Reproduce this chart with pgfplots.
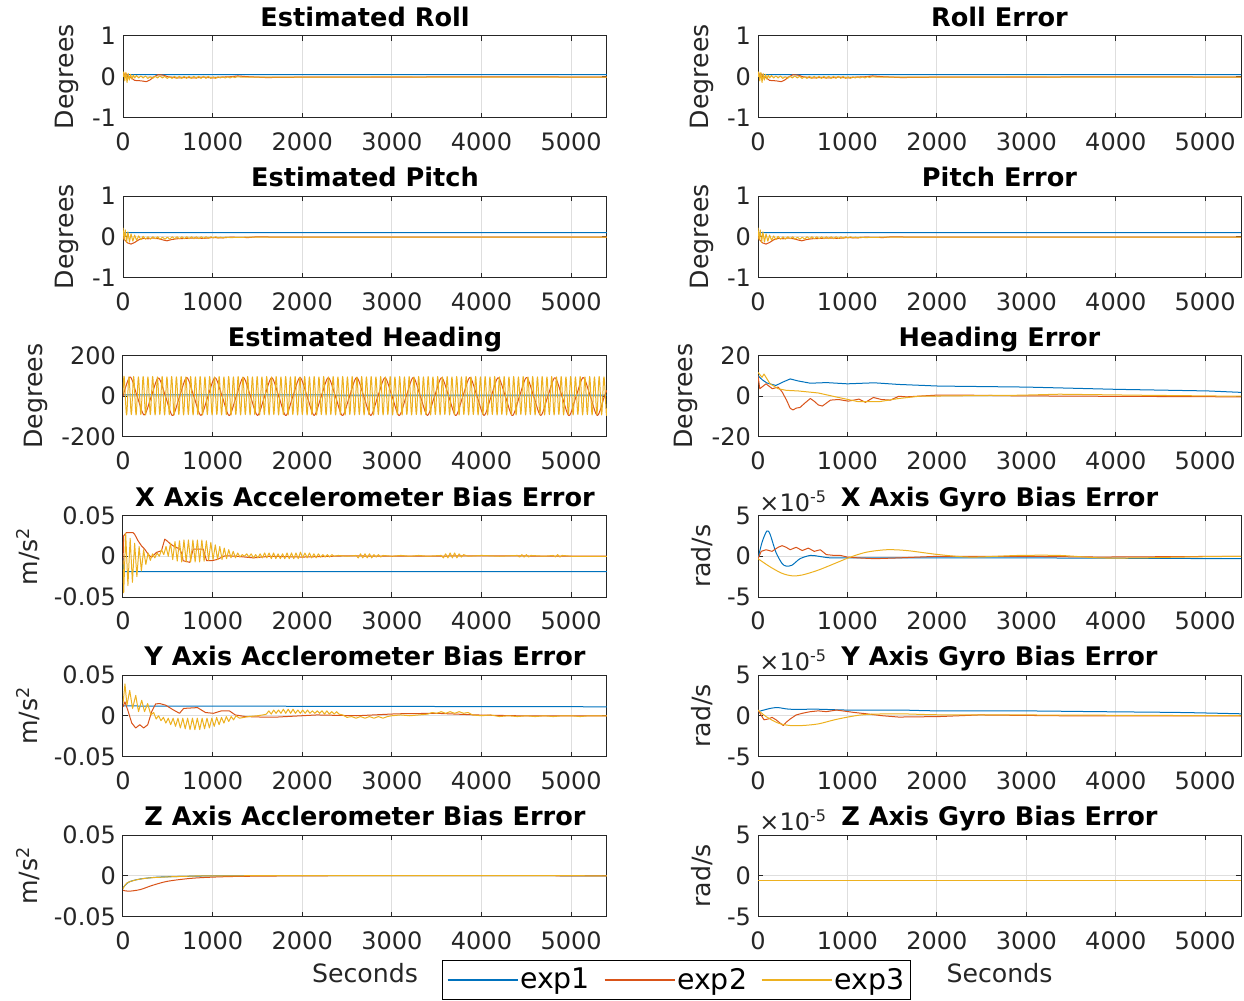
\documentclass[border=0pt]{standalone}
\usepackage{fontspec}
\setmainfont{DejaVu Sans}
\usepackage{pgfplots}
\pgfplotsset{compat=1.18}
\usepackage{pgfplotstable}

\definecolor{c1}{rgb}{0,0.447,0.741}
\definecolor{c2}{rgb}{0.85,0.325,0.098}
\definecolor{c3}{rgb}{0.929,0.694,0.125}
\definecolor{axc}{gray}{0.15}
\definecolor{gridc}{gray}{0.87}

\newcommand\ticksz{\fontsize{12}{13}\selectfont}
\newcommand\labsz{\fontsize{12.6}{14}\selectfont}
\newcommand\titsz{\fontsize{12.8}{14}\selectfont\bfseries}
\newcommand\legsz{\fontsize{14.2}{15}\selectfont}

% ---------------- data ----------------
\pgfplotstableread[row sep=\\]{
t v\\ 0 0.04\\ 60 0.05\\ 5400 0.05\\
}\rollA
\pgfplotstableread[row sep=\\]{
t v\\ 0 0.05\\ 30 0.08\\ 60 0.01\\ 100 -0.04\\ 130 -0.09\\ 200 -0.1\\ 260 -0.12\\ 300 -0.08\\ 340 -0.01\\ 390 0.05\\ 450 0.04\\ 500 0.0\\ 600 -0.03\\ 700 -0.02\\ 800 -0.03\\ 900 -0.01\\ 1000 -0.03\\ 1100 -0.01\\ 1200 0.0\\ 1280 0.02\\ 1400 0.0\\ 1600 -0.02\\ 2000 -0.01\\ 3000 -0.01\\ 4000 0.0\\ 5400 -0.01\\
}\rollB
\pgfplotstableread[row sep=\\]{
t v\\ 0 0.0\\ 8 0.12\\ 20 -0.1\\ 32 0.11\\ 45 -0.14\\ 58 0.08\\ 70 -0.08\\ 85 0.06\\ 100 -0.06\\ 115 0.04\\ 130 -0.03\\ 150 0.03\\ 175 -0.03\\ 200 0.02\\ 225 -0.03\\ 250 0.02\\ 277 -0.04\\ 304 0.0\\ 331 -0.04\\ 358 0.01\\ 385 -0.03\\ 412 0.02\\ 439 -0.03\\ 466 0.01\\ 493 -0.04\\ 520 0.0\\ 547 -0.04\\ 574 0.01\\ 601 -0.04\\ 628 0.01\\ 655 -0.04\\ 682 0.01\\ 709 -0.04\\ 736 0.01\\ 763 -0.04\\ 790 0.01\\ 817 -0.04\\ 844 0.01\\ 871 -0.04\\ 898 0.01\\ 925 -0.04\\ 952 0.01\\ 979 -0.04\\ 1006 0.0\\ 1033 -0.04\\ 1060 0.0\\ 1087 -0.03\\ 1114 0.0\\ 1141 -0.03\\ 1168 0.0\\ 1195 -0.03\\ 1222 0.0\\ 1249 -0.02\\ 1276 0.0\\ 1320 -0.01\\ 1500 -0.01\\ 2000 -0.01\\ 3000 -0.005\\ 4000 -0.01\\ 5400 -0.01\\
}\rollC
\pgfplotstableread[row sep=\\]{
t v\\ 0 0.09\\ 40 0.1\\ 5400 0.1\\
}\pitA
\pgfplotstableread[row sep=\\]{
t v\\ 0 0.0\\ 20 -0.08\\ 50 -0.15\\ 90 -0.18\\ 130 -0.14\\ 180 -0.07\\ 230 -0.04\\ 280 -0.05\\ 330 -0.03\\ 400 -0.05\\ 450 -0.08\\ 490 -0.1\\ 540 -0.07\\ 600 -0.05\\ 700 -0.04\\ 800 -0.03\\ 900 -0.04\\ 1000 -0.02\\ 1100 -0.03\\ 1200 -0.01\\ 1400 -0.02\\ 1500 0.0\\ 1700 -0.01\\ 2500 -0.01\\ 5400 -0.01\\
}\pitB
\pgfplotstableread[row sep=\\]{
t v\\ 0 0.22\\ 12 -0.08\\ 25 0.17\\ 40 -0.14\\ 55 0.12\\ 72 -0.13\\ 90 0.07\\ 110 -0.11\\ 130 0.04\\ 152 -0.09\\ 175 0.02\\ 200 -0.07\\ 225 0.01\\ 252 -0.06\\ 279 0.0\\ 306 -0.06\\ 333 0.0\\ 360 -0.05\\ 387 0.0\\ 414 -0.06\\ 441 -0.01\\ 468 -0.06\\ 495 -0.01\\ 522 -0.06\\ 549 0.0\\ 576 -0.05\\ 603 0.0\\ 630 -0.05\\ 657 0.0\\ 684 -0.05\\ 711 0.0\\ 738 -0.05\\ 765 0.0\\ 792 -0.05\\ 819 0.0\\ 846 -0.05\\ 873 0.0\\ 900 -0.04\\ 927 0.0\\ 954 -0.04\\ 981 0.0\\ 1008 -0.03\\ 1035 0.0\\ 1062 -0.03\\ 1089 -0.01\\ 1116 -0.03\\ 1143 -0.01\\ 1200 -0.02\\ 1400 -0.01\\ 5400 -0.01\\
}\pitC

\pgfplotsset{
 mat/.style={
  scale only axis, height=40.75pt,
  xmin=0, xmax=5400,
  xtick={0,1000,2000,3000,4000,5000},
  xticklabels={0,1000,2000,3000,4000,5000},
  scaled ticks=false,
  clip mode=individual,
  grid=major, major grid style={line width=0.5pt, color=gridc},
  axis line style={line width=0.5pt, color=axc},
  tick style={color=axc, line width=0.5pt},
  tick align=inside, major tick length=2.5pt,
  ticklabel style={font=\ticksz, color=axc},
  xticklabel style={yshift=-4pt},
  title style={font=\titsz, color=black, at={(0.5,1)}, anchor=base, yshift=-1.3pt},
  ylabel style={font=\labsz, color=axc},
  xlabel style={font=\labsz, color=axc},
  every axis plot/.append style={line width=0.5pt, line join=round},
  /pgf/number format/assume math mode=true,
 },
 L/.style={mat, at={(61.5pt,#1)}, anchor=north west, width=242pt},
 R/.style={mat, at={(379pt,#1)}, anchor=north west, width=241.5pt},
 deg/.style={ymin=-1, ymax=1, ytick={-1,0,1}, yticklabels={-1,0,1}, ylabel={Degrees}},
 acc/.style={ymin=-0.05, ymax=0.05, ytick={-0.05,0,0.05}, yticklabels={-0.05,0,0.05}, ylabel={m/s\textsuperscript{2}}},
 gyr/.style={ymin=-5e-5, ymax=5e-5, ytick={-5e-5,0,5e-5}, yticklabels={-5,0,5}, ylabel={rad/s}},
}
\newcommand\expolabel{\node[anchor=base west, font=\fontsize{12}{13}\selectfont, text=axc, inner sep=0pt, xshift=0.5pt, yshift=2.2pt] at (rel axis cs:0,1) {×10\textsuperscript{-5}};}

\begin{document}
\begin{tikzpicture}
\useasboundingbox (0,0) rectangle (622pt,-500.5pt);

% ===== Row 1 =====
\begin{axis}[L=-18pt, deg, title={Estimated Roll}]
\addplot[c1] table {\rollA};
\addplot[c2] table {\rollB};
\addplot[c3] table {\rollC};
\end{axis}
\begin{axis}[R=-18pt, deg, title={Roll Error}]
\addplot[c1] table {\rollA};
\addplot[c2] table {\rollB};
\addplot[c3] table {\rollC};
\end{axis}

% ===== Row 2 =====
\begin{axis}[L=-98pt, deg, title={Estimated Pitch}]
\addplot[c1] table {\pitA};
\addplot[c2] table {\pitB};
\addplot[c3] table {\pitC};
\end{axis}
\begin{axis}[R=-98pt, deg, title={Pitch Error}]
\addplot[c1] table {\pitA};
\addplot[c2] table {\pitB};
\addplot[c3] table {\pitC};
\end{axis}

% ===== Row 3 =====
\begin{axis}[L=-177.75pt, ymin=-200, ymax=200, ytick={-200,0,200}, yticklabels={-200,0,200}, ylabel={Degrees}, title={Estimated Heading}]
\addplot[c1] coordinates {(0,7) (5400,5)};
\addplot[c2, smooth] coordinates {(0,0) (79,95) (158,0) (237,-92) (316,0) (395,90) (474,0) (553,-95) (632,0) (711,92) (790,0) (869,-94) (948,0) (1027,91) (1106,0) (1185,-95) (1264,0) (1343,92) (1422,0) (1501,-94) (1580,0) (1659,91) (1738,0) (1817,-95) (1896,0) (1975,92) (2054,0) (2133,-94) (2212,0) (2291,91) (2370,0) (2449,-95) (2528,0) (2607,92) (2686,0) (2765,-94) (2844,0) (2923,91) (3002,0) (3081,-95) (3160,0) (3239,92) (3318,0) (3397,-94) (3476,0) (3555,91) (3634,0) (3713,-95) (3792,0) (3871,92) (3950,0) (4029,-94) (4108,0) (4187,91) (4266,0) (4345,-95) (4424,0) (4503,92) (4582,0) (4661,-94) (4740,0) (4819,91) (4898,0) (4977,-95) (5056,0) (5135,92) (5214,0) (5293,-94) (5372,0) (5400,30)};
\addplot[c3, smooth] coordinates {(0,10) (13,97) (40,-92) (66,95) (93,-90) (119,97) (146,-92) (172,95) (199,-90) (225,97) (252,-92) (278,95) (305,-90) (331,97) (358,-92) (384,95) (411,-90) (437,97) (464,-92) (490,95) (517,-90) (543,97) (570,-92) (596,95) (623,-90) (649,97) (676,-92) (702,95) (729,-90) (755,97) (782,-92) (808,95) (835,-90) (861,97) (888,-92) (914,95) (941,-90) (967,97) (994,-92) (1020,95) (1047,-90) (1073,97) (1100,-92) (1126,95) (1153,-90) (1179,97) (1206,-92) (1232,95) (1259,-90) (1285,97) (1312,-92) (1338,95) (1365,-90) (1391,97) (1418,-92) (1444,95) (1471,-90) (1497,97) (1524,-92) (1550,95) (1577,-90) (1603,97) (1630,-92) (1656,95) (1683,-90) (1709,97) (1736,-92) (1762,95) (1789,-90) (1815,97) (1842,-92) (1868,95) (1895,-90) (1921,97) (1948,-92) (1974,95) (2001,-90) (2027,97) (2054,-92) (2080,95) (2107,-90) (2133,97) (2160,-92) (2186,95) (2213,-90) (2239,97) (2266,-92) (2292,95) (2319,-90) (2345,97) (2372,-92) (2398,95) (2425,-90) (2451,97) (2478,-92) (2504,95) (2531,-90) (2557,97) (2584,-92) (2610,95) (2637,-90) (2663,97) (2690,-92) (2716,95) (2743,-90) (2769,97) (2796,-92) (2822,95) (2849,-90) (2875,97) (2902,-92) (2928,95) (2955,-90) (2981,97) (3008,-92) (3034,95) (3061,-90) (3087,97) (3114,-92) (3140,95) (3167,-90) (3193,97) (3220,-92) (3246,95) (3273,-90) (3299,97) (3326,-92) (3352,95) (3379,-90) (3405,97) (3432,-92) (3458,95) (3485,-90) (3511,97) (3538,-92) (3564,95) (3591,-90) (3617,97) (3644,-92) (3670,95) (3697,-90) (3723,97) (3750,-92) (3776,95) (3803,-90) (3829,97) (3856,-92) (3882,95) (3909,-90) (3935,97) (3962,-92) (3988,95) (4015,-90) (4041,97) (4068,-92) (4094,95) (4121,-90) (4147,97) (4174,-92) (4200,95) (4227,-90) (4253,97) (4280,-92) (4306,95) (4333,-90) (4359,97) (4386,-92) (4412,95) (4439,-90) (4465,97) (4492,-92) (4518,95) (4545,-90) (4571,97) (4598,-92) (4624,95) (4651,-90) (4677,97) (4704,-92) (4730,95) (4757,-90) (4783,97) (4810,-92) (4836,95) (4863,-90) (4889,97) (4916,-92) (4942,95) (4969,-90) (4995,97) (5022,-92) (5048,95) (5075,-90) (5101,97) (5128,-92) (5154,95) (5181,-90) (5207,97) (5234,-92) (5260,95) (5287,-90) (5313,97) (5340,-92) (5366,95) (5393,-90) (5400,-60)};
\end{axis}
\begin{axis}[R=-177.75pt, ymin=-20, ymax=20, ytick={-20,0,20}, yticklabels={-20,0,20}, ylabel={Degrees}, title={Heading Error}]
\addplot[c1] coordinates {(0,10.1) (50,8) (100,6.5) (200,5.3) (280,7) (360,8.5) (450,7.5) (585,6.4) (765,6.7) (1000,6.1) (1300,6.6) (1570,5.8) (2020,5.0) (3000,4.5) (4000,3.4) (5030,2.6) (5400,1.9)};
\addplot[c2] coordinates {(0,10) (20,3.7) (90,6.1) (160,3.7) (225,4.5) (270,2.1) (320,-2) (360,-5.9) (390,-6.7) (430,-5.8) (470,-5.5) (520,-3.5) (585,-1.1) (630,-2.5) (675,-4.3) (720,-4.8) (810,-1.9) (900,-1.6) (1010,-2.4) (1130,-1.4) (1200,-3.0) (1290,-0.6) (1380,-1.6) (1480,-1.9) (1575,0) (1660,-0.3) (2020,0.6) (2400,0.5) (2900,0.2) (3800,0) (5400,-0.3)};
\addplot[c3] coordinates {(0,11.7) (45,9.3) (67,10.9) (135,6.1) (225,3.7) (315,2.9) (450,2.6) (675,1.6) (900,-0.6) (1125,-2.7) (1350,-2.7) (1575,-1.1) (1800,0) (2400,0.3) (2920,0.5) (3370,1.0) (4270,0.5) (5400,0)};
\end{axis}

% ===== Row 4 =====
\begin{axis}[L=-257.75pt, acc, title={X Axis Accelerometer Bias Error}]
\addplot[c1] coordinates {(0,-0.002) (6,-0.019) (5400,-0.019)};
\addplot[c2] coordinates {(0,-0.01) (7,0.025) (37,0.029) (112,0.029) (130,0.027) (168,0.019) (205,0.013) (242,0.0087) (280,0.0026) (317,-0.0014) (373,0.0047) (429,0.0067) (466,0.021) (490,0.019) (520,0.016) (560,0.0128) (634,0.0087) (660,0.002) (671,-0.0055) (746,-0.0075) (783,0.0087) (895,0.0087) (933,-0.0055) (988,-0.0055) (1050,-0.004) (1138,0.0006) (1268,0.0) (1455,-0.002) (1641,0.0) (2000,-0.001) (2500,0.0005) (3000,0) (4000,0.0005) (5400,0)};
\addplot[c3] coordinates {(0,-0.005) (8,-0.045) (30,0.028) (55,-0.036) (80,0.022) (105,-0.032) (130,0.016) (155,-0.025) (180,0.012) (205,-0.018) (230,0.008) (255,-0.010) (280,0.004) (305,-0.005) (330,0.003) (355,-0.002) (380,0.004) (405,0.000) (430,0.008) (455,0.002) (480,0.012) (505,0.000) (530,0.016) (555,-0.004) (580,0.018) (605,-0.006) (630,0.019) (655,-0.007) (680,0.02) (705,-0.007) (730,0.02) (755,-0.007) (780,0.02) (805,-0.007) (830,0.02) (855,-0.007) (880,0.02) (905,-0.006) (930,0.019) (955,-0.005) (980,0.017) (1005,-0.004) (1030,0.014) (1055,-0.004) (1080,0.012) (1105,-0.004) (1130,0.010) (1155,-0.003) (1180,0.008) (1205,-0.002) (1230,0.006) (1255,-0.002) (1280,0.004) (1305,-0.001) (1330,0.002) (1355,0.000) (1380,0.003) (1405,-0.001) (1430,0.003) (1455,-0.002) (1480,0.002) (1505,-0.002) (1530,0.003) (1555,-0.002) (1580,0.004) (1605,-0.002) (1630,0.004) (1655,-0.003) (1680,0.004) (1705,-0.003) (1730,0.003) (1755,-0.003) (1780,0.003) (1805,-0.003) (1830,0.004) (1855,-0.003) (1880,0.004) (1905,-0.003) (1930,0.004) (1955,-0.003) (1980,0.005) (2005,-0.002) (2030,0.004) (2055,-0.002) (2080,0.004) (2105,-0.002) (2130,0.003) (2155,-0.002) (2180,0.003) (2205,-0.001) (2230,0.002) (2255,-0.001) (2280,0.002) (2305,-0.001) (2330,0.002) (2355,0.000) (2400,0.001) (2500,0.000) (2600,0.001) (2625,-0.002) (2650,0.003) (2675,-0.002) (2700,0.003) (2725,-0.002) (2750,0.003) (2775,-0.002) (2800,0.002) (2825,-0.001) (2850,0.002) (2875,-0.001) (2900,0.001) (3000,0.000) (3100,0.001) (3200,0.000) (3300,0.001) (3400,0.000) (3550,0.001) (3575,-0.002) (3600,0.003) (3625,-0.002) (3650,0.004) (3675,-0.002) (3700,0.004) (3725,-0.002) (3750,0.003) (3775,-0.001) (3800,0.002) (3850,0.000) (4000,0.001) (4200,0.000) (4400,0.001) (4425,-0.001) (4450,0.002) (4475,-0.001) (4500,0.002) (4525,-0.001) (4550,0.001) (4700,0.000) (4800,0.001) (4825,-0.001) (4850,0.002) (4875,-0.001) (4900,0.001) (5000,0.000) (5400,0.000)};
\end{axis}
\begin{axis}[R=-257.75pt, gyr, title={X Axis Gyro Bias Error}]
\addplot[c1, smooth] coordinates {(0,-0.3e-5) (45,1.7e-5) (99,3.1e-5) (135,2.7e-5) (200,0.5e-5) (270,-0.9e-5) (315,-1.2e-5) (380,-1.1e-5) (470,-0.3e-5) (585,0.1e-5) (675,0) (810,-0.2e-5) (1000,-0.2e-5) (1570,-0.2e-5) (2920,-0.2e-5) (5400,-0.3e-5)};
\addplot[c2] coordinates {(0,-0.3e-5) (36,0.6e-5) (90,0.8e-5) (157,0.6e-5) (225,1.1e-5) (270,1.3e-5) (315,1.1e-5) (360,0.8e-5) (427,1.1e-5) (494,0.7e-5) (562,1.0e-5) (629,0.6e-5) (697,0.8e-5) (764,0.2e-5) (854,0.1e-5) (921,0.1e-5) (1000,-0.1e-5) (1123,-0.2e-5) (1303,-0.3e-5) (1573,-0.2e-5) (2022,0) (2921,0) (3820,-0.1e-5) (5400,0)};
\addplot[c3, smooth] coordinates {(0,-0.3e-5) (135,-1.3e-5) (270,-2.1e-5) (382,-2.4e-5) (494,-2.3e-5) (674,-1.7e-5) (899,-0.7e-5) (1034,-0.1e-5) (1213,0.5e-5) (1438,0.8e-5) (1663,0.7e-5) (2022,0.2e-5) (2382,-0.1e-5) (2921,0.1e-5) (3370,0.1e-5) (3820,-0.2e-5) (4270,-0.2e-5) (4719,-0.1e-5) (5400,0)};
\expolabel
\end{axis}

% ===== Row 5 =====
\begin{axis}[L=-337.5pt, acc, title={Y Axis Acclerometer Bias Error}]
\addplot[c1] coordinates {(0,0.012) (5400,0.011)};
\addplot[c2] coordinates {(0,0.011) (22,0.017) (53,0.007) (98,-0.009) (142,-0.015) (187,-0.011) (231,-0.015) (276,-0.011) (320,0.005) (364,0.0145) (409,0.015) (476,0.013) (564,0.007) (631,0.003) (676,0.009) (831,0.010) (920,0.004) (1009,0.003) (1098,0.006) (1187,0.006) (1253,0.001) (1364,-0.001) (1542,-0.0016) (1720,-0.0016) (2164,0.001) (2609,0) (3053,0.0024) (3498,0.003) (3942,0.001) (4386,0) (5400,0)};
\addplot[c3] coordinates {(0,0.015) (22,0.039) (44,0.013) (75,0.031) (107,0.009) (142,0.025) (173,0.005) (209,0.019) (240,0.005) (275,0.015) (311,0.001) (342,0.004) (370,-0.004) (397,0.000) (424,-0.006) (451,-0.002) (478,-0.009) (505,-0.003) (532,-0.011) (559,-0.003) (586,-0.013) (613,-0.003) (640,-0.015) (667,-0.003) (694,-0.016) (721,-0.003) (748,-0.017) (775,-0.003) (802,-0.017) (829,-0.003) (856,-0.017) (883,-0.003) (910,-0.016) (937,-0.003) (964,-0.015) (991,-0.003) (1018,-0.013) (1045,-0.002) (1072,-0.011) (1099,-0.002) (1126,-0.009) (1153,-0.001) (1180,-0.007) (1207,-0.001) (1234,-0.005) (1261,0.000) (1300,-0.003) (1350,-0.002) (1400,-0.001) (1500,0.000) (1560,0.001) (1600,0.002) (1627,0.006) (1654,0.002) (1681,0.007) (1708,0.003) (1735,0.007) (1762,0.003) (1789,0.008) (1816,0.003) (1843,0.008) (1870,0.003) (1897,0.008) (1924,0.003) (1951,0.007) (1978,0.003) (2005,0.007) (2032,0.003) (2059,0.007) (2086,0.003) (2113,0.006) (2140,0.003) (2167,0.006) (2194,0.003) (2221,0.006) (2248,0.002) (2275,0.006) (2302,0.002) (2329,0.005) (2356,0.002) (2383,0.005) (2410,0.002) (2450,0.001) (2500,-0.002) (2550,-0.001) (2600,-0.003) (2650,-0.001) (2700,-0.003) (2750,-0.001) (2800,-0.003) (2850,-0.001) (2900,-0.003) (2950,-0.001) (3000,0.000) (3100,0.001) (3200,0.000) (3300,0.001) (3400,0.002) (3450,0.004) (3500,0.003) (3550,0.005) (3600,0.003) (3650,0.005) (3700,0.003) (3750,0.005) (3800,0.003) (3850,0.004) (3900,0.001) (4000,0.000) (4100,0.001) (4200,-0.001) (4300,0.000) (4400,-0.001) (4500,0.000) (4600,-0.001) (4700,0.000) (4800,-0.001) (4900,0.000) (5000,0.000) (5100,-0.001) (5200,0.000) (5400,0.000)};
\end{axis}
\begin{axis}[R=-337.5pt, gyr, title={Y Axis Gyro Bias Error}]
\addplot[c1, smooth] coordinates {(0,0.5e-5) (135,0.9e-5) (225,1.0e-5) (360,0.8e-5) (674,0.8e-5) (1000,0.7e-5) (1573,0.7e-5) (2022,0.6e-5) (2921,0.6e-5) (3820,0.5e-5) (4719,0.4e-5) (5400,0.24e-5)};
\addplot[c2] coordinates {(0,0.7e-5) (22,0.3e-5) (67,-0.5e-5) (112,-0.4e-5) (157,-0.2e-5) (202,-0.5e-5) (247,-0.9e-5) (283,-1.2e-5) (315,-0.8e-5) (360,-0.4e-5) (427,0.1e-5) (494,0.3e-5) (584,0.5e-5) (674,0.6e-5) (764,0.5e-5) (876,0.7e-5) (944,0.6e-5) (1079,0.4e-5) (1213,0.24e-5) (1393,0) (1573,-0.16e-5) (2022,-0.1e-5) (2472,0.1e-5) (3370,0) (5400,0)};
\addplot[c3, smooth] coordinates {(0,0.7e-5) (90,-0.1e-5) (225,-0.9e-5) (360,-1.2e-5) (494,-1.2e-5) (674,-1.0e-5) (854,-0.5e-5) (1034,-0.1e-5) (1213,0.16e-5) (1573,0.24e-5) (2022,0.12e-5) (2921,0.1e-5) (5400,0)};
\expolabel
\end{axis}

% ===== Row 6 =====
\begin{axis}[L=-417.5pt, acc, title={Z Axis Acclerometer Bias Error}, xlabel={Seconds}]
\addplot[c1, smooth] coordinates {(0,-0.015) (61,-0.008) (191,-0.004) (409,-0.0016) (844,-0.0004) (1300,0) (5400,0)};
\addplot[c2, smooth] coordinates {(0,-0.0177) (61,-0.019) (191,-0.017) (322,-0.012) (496,-0.0068) (757,-0.0032) (1018,-0.0016) (1279,-0.0008) (1714,-0.0003) (2149,0) (5400,0)};
\addplot[c3, smooth] coordinates {(0,-0.016) (43,-0.009) (148,-0.005) (322,-0.0024) (670,-0.0008) (1300,0) (5400,0)};
\end{axis}
\begin{axis}[R=-417.5pt, gyr, title={Z Axis Gyro Bias Error}, xlabel={Seconds},
  legend style={at={(axis description cs:-0.1687,-0.779)}, anchor=center, legend columns=3,
    draw=black, line width=0.5pt, font=\legsz, inner xsep=2pt, inner ysep=1.5pt,
    nodes={inner xsep=1pt, inner ysep=2pt},
    /tikz/every odd column/.append style={column sep=0pt},
    /tikz/every even column/.append style={column sep=6pt}},
  legend image code/.code={\draw[#1, line width=0.6pt] (0pt,0pt) -- (35pt,0pt);}]
\addplot[c1] coordinates {(0,-0.6e-5) (5400,-0.6e-5)};
\addlegendentry{exp1}
\addplot[c2] coordinates {(0,-0.6e-5) (5400,-0.6e-5)};
\addlegendentry{exp2}
\addplot[c3] coordinates {(0,-0.6e-5) (5400,-0.6e-5)};
\addlegendentry{exp3}
\expolabel
\end{axis}
\end{tikzpicture}
\end{document}
